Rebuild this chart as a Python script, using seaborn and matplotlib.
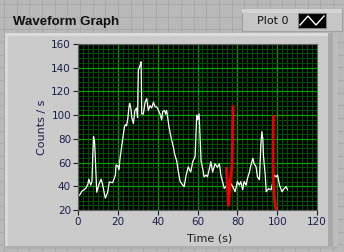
import matplotlib
matplotlib.use("Agg")
import matplotlib.pyplot as plt
import seaborn as sns
import numpy as np
import pandas as pd
from matplotlib.patches import Rectangle
from matplotlib.ticker import MultipleLocator

# ---- data ----
time_s = [0.3, 1.0, 2.0, 3.0, 4.0, 5.0, 5.4, 6.4, 7.0, 7.5, 7.8, 8.3, 8.8, 9.4,
          10.4, 11.6, 12.4, 13.0, 13.7, 14.9, 15.7, 17.4, 18.8, 19.1, 20.0, 20.6,
          21.1, 22.4, 23.3, 23.8, 24.4, 25.0, 25.6, 26.0, 26.6, 27.0, 27.8, 28.6,
          29.4, 29.9, 30.3, 31.2, 31.7, 32.0, 32.8, 33.7, 34.5, 35.3, 36.2, 37.0,
          37.9, 38.7, 39.5, 40.4, 41.2, 42.0, 42.5, 43.4, 44.0, 44.5, 45.0, 45.7,
          47.0, 47.9, 48.4, 49.6, 50.4, 51.3, 52.6, 53.3, 54.3, 55.4, 56.0, 56.6,
          57.6, 58.8, 59.6, 60.1, 60.8, 61.3, 61.8, 62.6, 63.3, 64.3, 65.0, 66.0,
          66.7, 67.6, 68.8, 70.0, 71.0, 71.7, 72.8, 73.4, 74.4, 75.0, 76.0, 76.7,
          77.7, 78.9, 80.0, 81.0, 81.7, 82.7, 83.4, 84.4, 85.1, 86.1, 86.8, 87.8,
          88.4, 89.4, 90.1, 91.1, 91.8, 92.3, 92.8, 93.1, 94.0, 94.5, 95.7, 96.9,
          97.9, 98.5, 99.5, 100.2, 101.2, 102.4, 103.5, 104.5, 105.2]
counts = [32, 33, 36, 37, 38.5, 42, 46, 41, 44, 70, 82, 78, 60, 35,
          41, 46, 41, 36, 30, 35, 43.6, 43, 49.5, 58, 57, 54,
          63.6, 79, 90, 92, 91, 97, 107, 110, 105, 98, 93, 104,
          106, 98, 138, 142, 145, 101, 101, 111, 114, 104, 108, 106,
          111, 107, 107, 104, 101, 96, 103, 104, 101, 104, 98, 90,
          79, 73, 68, 61, 52, 44, 41, 39.7, 49.5, 56.5, 54, 52,
          60.7, 65, 100, 96, 101, 80, 61, 55, 48, 49.5, 48, 55,
          60.7, 52, 59, 56, 59, 49.5, 42.5, 38.3, 39.7, 44, 37, 42.5,
          39.7, 35.4, 44, 41, 44, 37, 44, 41, 46.7, 52, 57.6, 63.6,
          59, 56.5, 48, 45.5, 74.8, 86, 80, 66, 49.5, 35.4, 38, 37,
          44, 49.5, 48, 49.5, 41, 35.4, 38, 39.7, 37]

red1_t = [74.6, 75.0, 75.5, 76.0, 76.6, 77.2, 77.5, 77.6, 77.8]
red1_v = [55, 40, 24, 35, 47, 55, 70, 90, 107]
red2_t = [98.1, 97.9, 97.9, 98.1, 98.6, 99.3, 99.6]
red2_v = [99, 80, 60, 42, 30, 20, 15]

x_ticks = [0, 20, 40, 60, 80, 100, 120]
y_ticks = [20, 40, 60, 80, 100, 120, 140, 160]

W, H = 344, 252
fig = plt.figure(figsize=(W / 100, H / 100), dpi=100)
fig.patch.set_facecolor("#b9b9b9")

# background front-panel grid + graph panel
bg = fig.add_axes([0, 0, 1, 1], zorder=-10)
bg.set_xlim(0, W)
bg.set_ylim(H, 0)
bg.axis("off")
for gx in np.arange(4, W, 12.65):
    bg.axvline(gx, color="#aaaaaa", lw=0.8, zorder=1)
for gy in np.arange(4, H, 12.65):
    bg.axhline(gy, color="#aaaaaa", lw=0.8, zorder=1)


def box(x, y, w, h, fc, ec="none", lw=0.0, z=3):
    bg.add_patch(Rectangle((x, y), w, h, facecolor=fc, edgecolor=ec, lw=lw, zorder=z))


box(5, 33, 333, 216, "#cbcbcb")
box(5, 33, 333, 3, "#dcdcdc", z=4)
box(5, 33, 3, 216, "#d8d8d8", z=4)
box(328, 33, 5, 216, "#a9a9a9", z=4)
box(333, 33, 5, 216, "#bdbdbd", z=4)
box(5, 246, 333, 3, "#b0b0b0", z=4)
# legend box
box(242, 9, 100, 22, "#c6c6c6", ec="#a0a0a0", lw=0.8)
box(242, 9, 100, 4, "#d4d4d4", z=4)
box(298, 13, 28, 15, "black", ec="#808080", lw=0.8, z=5)
bg.plot([300, 308, 316, 324], [25, 16, 25, 16], color="white", lw=1.0, zorder=6)
bg.text(257, 20.5, "Plot 0", fontsize=8, va="center", ha="left", color="#101010",
        family="DejaVu Sans", zorder=6)
bg.text(13, 22.5, "Waveform Graph", fontsize=9.5, fontweight="bold", va="center",
        ha="left", color="#101010", family="Liberation Sans", zorder=6)

# main axes
ax = fig.add_axes([78 / W, 1 - 210 / H, 239 / W, 166 / H])
ax.set_facecolor("black")
df = pd.DataFrame({"t": time_s, "v": counts})
sns.lineplot(data=df, x="t", y="v", ax=ax, color="white", lw=0.9,
             estimator=None, sort=False)
r1 = pd.DataFrame({"t": red1_t, "v": red1_v})
r2 = pd.DataFrame({"t": red2_t, "v": red2_v})
sns.lineplot(data=r1, x="t", y="v", ax=ax, color="#ee0000", lw=2.0,
             estimator=None, sort=False)
sns.lineplot(data=r2, x="t", y="v", ax=ax, color="#ee0000", lw=2.0,
             estimator=None, sort=False)

ax.set_xlim(0, 120)
ax.set_ylim(20, 160)
ax.set_xticks(x_ticks)
ax.set_yticks(y_ticks)
ax.xaxis.set_minor_locator(MultipleLocator(2.5))
ax.yaxis.set_minor_locator(MultipleLocator(4))
ax.grid(which="minor", color="#004c00", lw=0.8)
ax.grid(which="major", color="#00a000", lw=0.9)
ax.set_axisbelow(True)
ax.tick_params(which="minor", length=0)
ax.tick_params(which="major", length=3.5, width=0.8, color="#202020",
               labelsize=7.5, labelcolor="#1c1c4c", pad=1.5)
for s in ax.spines.values():
    s.set_color("#606060")
    s.set_linewidth(0.8)
ax.set_xlabel("Time (s)", fontsize=8, color="#1a1a1a", labelpad=2)
ax.set_ylabel("Counts / s", fontsize=8, color="#1c1c4c", labelpad=3)
ax.xaxis.set_label_coords(0.55, -0.14)

fig.savefig("out.png", dpi=100, facecolor=fig.get_facecolor())
